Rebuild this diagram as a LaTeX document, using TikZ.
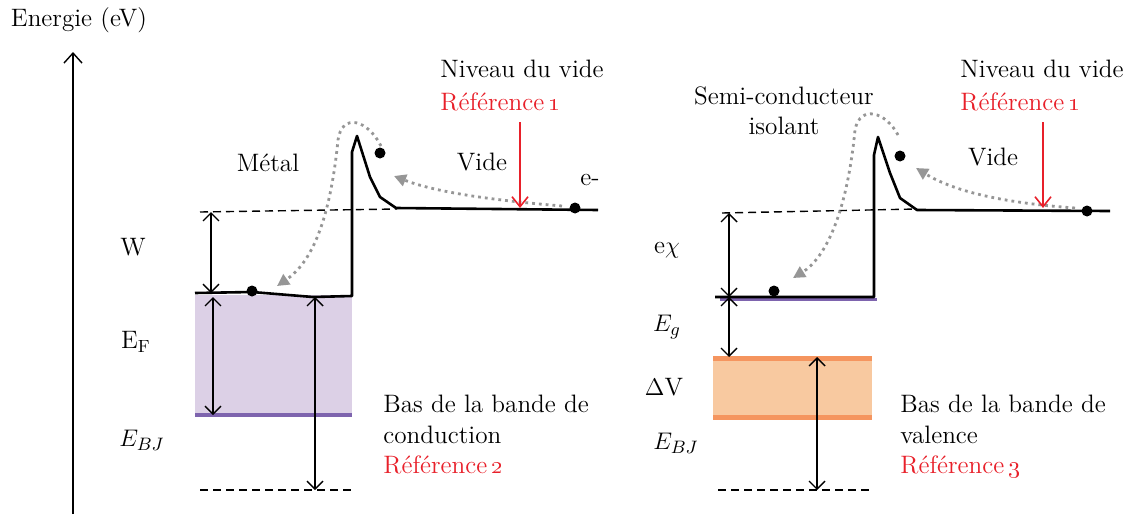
\documentclass[tikz,border=0pt]{standalone}
\usetikzlibrary{arrows.meta}
\definecolor{refred}{RGB}{232,32,42}
\definecolor{bandfill}{RGB}{220,208,230}
\definecolor{bandline}{RGB}{126,100,174}
\definecolor{valfill}{RGB}{248,201,160}
\definecolor{valline}{RGB}{245,149,95}
\definecolor{hopgray}{RGB}{150,150,150}
\tikzset{
  lbl/.style={inner sep=0pt, font=\fontsize{12.6}{15}\selectfont},
  level/.style={line width=1.3pt, line join=round},
  vacdash/.style={line width=0.7pt, dash pattern=on 4pt off 2.5pt},
  dimarrow/.style={line width=0.7pt, {Straight Barb[length=4pt,width=8pt]}-{Straight Barb[length=4pt,width=8pt]}},
  refarrow/.style={refred, line width=0.8pt, -{Straight Barb[length=5pt,width=8pt]}},
  hop/.style={hopgray, line width=1.4pt, dotted, -{Triangle[length=6pt,width=6pt]}},
  elec/.style={circle, fill=black, minimum size=5.5pt, inner sep=0pt}
}
\begin{document}
\begin{tikzpicture}[x=0.5pt,y=-0.5pt]
\useasboundingbox (0,0) rectangle (1128,514);
% axe des energies
\node[lbl] (axlbl) at (79,20) {Energie (eV)};
\coordinate (axbot) at (73,514);
\coordinate (axtop) at (73,52);
\draw[line width=0.7pt, -{Straight Barb[length=5pt,width=9pt]}] (axbot) -- (axtop);

% ---- metal ----
\fill[bandfill] (195,295) rectangle (352,415);
\draw[bandline, line width=2pt] (195,415) -- (352,415);
\draw[vacdash] (200,212) -- (397,209);
\draw[vacdash] (200,490) -- (353,490);
\draw[level] (195,293) -- (252,292) -- (313,297) -- (352,296) -- (352,152) -- (357,136)
  -- (370,177) -- (380,197) -- (396,208) -- (598,210);
\node[elec] (eL1) at (252,291) {};
\node[elec] (eL2) at (380,153) {};
\node[elec] (eL3) at (575,208) {};
\draw[hop] (562,206) .. controls (490,200) and (435,192) .. (394,176);
\draw[hop] (381,146) .. controls (368,120) and (342,112) .. (338,140)
  .. controls (330,220) and (312,262) .. (277,286);
\coordinate (refL) at (520,122);
\coordinate (vidL) at (520,208);
\draw[refarrow] (refL) -- (vidL);
\node[lbl, anchor=base west] (nivL) at (440,77) {Niveau du vide};
\node[lbl, anchor=base west, text=refred] (ref1L) at (440,110) {Référence\,\oldstylenums{1}};
\node[lbl] (videL) at (482,162) {Vide};
\node[lbl] (metal) at (268,163) {Métal};
\node[lbl] (elbl) at (590,180) {e-};
\coordinate (wtop) at (211,212);
\coordinate (wbot) at (211,293);
\draw[dimarrow] (wtop) -- (wbot);
\coordinate (eftop) at (213,297);
\coordinate (efbot) at (213,415);
\draw[dimarrow] (eftop) -- (efbot);
\coordinate (bjtopL) at (315,297);
\coordinate (bjbotL) at (315,490);
\draw[dimarrow] (bjtopL) -- (bjbotL);
\node[lbl] (W) at (133,247) {W};
\node[lbl] (EF) at (136,342) {E\textsubscript{F}};
\node[lbl] (EBJL) at (142,440) {$E_{BJ}$};
\node[lbl, anchor=base west] (bas1) at (383,412) {Bas de la bande de};
\node[lbl, anchor=base west] (bas2) at (383,443) {conduction};
\node[lbl, anchor=base west, text=refred] (ref2) at (383,473) {Référence\,\oldstylenums{2}};

% ---- semi-conducteur ----
\fill[valfill] (713,358) rectangle (872,417);
\draw[valline, line width=2.5pt] (713,358) -- (872,358);
\draw[valline, line width=2.5pt] (713,417) -- (872,417);
\draw[vacdash] (722,213) -- (917,209);
\draw[vacdash] (718,490) -- (870,490);
\draw[bandline, line width=1.5pt] (720,299) -- (877,299);
\draw[level] (715,297) -- (874,297) -- (874,155) -- (878,137) -- (890,173) -- (900,198)
  -- (917,210) -- (1110,211);
\node[elec] (eR1) at (774,291) {};
\node[elec] (eR2) at (900,156) {};
\node[elec] (eR3) at (1087,211) {};
\draw[hop] (1075,208) .. controls (1005,203) and (955,192) .. (916,168);
\draw[hop] (898,135) .. controls (886,112) and (860,104) .. (855,130)
  .. controls (846,222) and (822,260) .. (793,278);
\coordinate (refR) at (1043,122);
\coordinate (vidR) at (1043,208);
\draw[refarrow] (refR) -- (vidR);
\node[lbl, anchor=base west] (nivR) at (960,77) {Niveau du vide};
\node[lbl, anchor=base west, text=refred] (ref1R) at (960,110) {Référence\,\oldstylenums{1}};
\node[lbl] (videR) at (993,157) {Vide};
\node[lbl, align=center] (sc) at (784,111) {Semi-conducteur\\isolant};
\coordinate (chitop) at (729,213);
\coordinate (chibot) at (729,297);
\draw[dimarrow] (chitop) -- (chibot);
\coordinate (egtop) at (729,297);
\coordinate (egbot) at (729,357);
\draw[dimarrow] (egtop) -- (egbot);
\coordinate (bjtopR) at (817,357);
\coordinate (bjbotR) at (817,490);
\draw[dimarrow] (bjtopR) -- (bjbotR);
\node[lbl] (echi) at (667,250) {e$\chi$};
\node[lbl] (Eg) at (667,327) {$E_g$};
\node[lbl] (dV) at (664,387) {$\Delta$V};
\node[lbl] (EBJR) at (676,443) {$E_{BJ}$};
\node[lbl, anchor=base west] (bas3) at (900,412) {Bas de la bande de};
\node[lbl, anchor=base west] (bas4) at (900,443) {valence};
\node[lbl, anchor=base west, text=refred] (ref3) at (900,473) {Référence\,\oldstylenums{3}};
\end{tikzpicture}
\end{document}
